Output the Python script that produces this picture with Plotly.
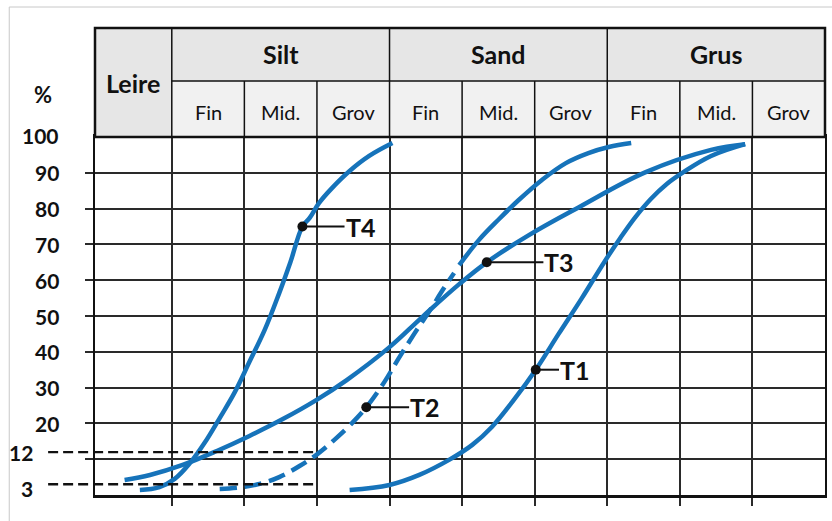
import plotly.graph_objects as go

# ---- grain-size classes (column headers) ----
clay_label = "Leire"
fractions = ["Silt", "Sand", "Grus"]
subclasses = ["Fin", "Mid.", "Grov"]

# ---- percentage axis ----
pct_grid = [10, 20, 30, 40, 50, 60, 70, 80, 90]
pct_labels = [100, 90, 80, 70, 60, 50, 40, 30, 20]
limit_values = [12, 3]

# ---- grading curves: x in class-column units (0 = start of fine silt), y = % passing ----
t1_x = [2.45, 3.0, 3.41, 3.82, 4.14, 4.41, 4.71, 5.015, 5.33, 5.65, 5.96, 6.18, 6.39, 6.60, 6.82, 7.05, 7.43, 7.90]
t1_y = [1.4, 2.8, 5.6, 9.8, 14.0, 19.0, 26.5, 35.0, 45.0, 55.0, 65.1, 71.8, 77.7, 82.7, 86.9, 90.2, 94.7, 98.0]

t2_dash_x = [0.66, 0.93, 1.21, 1.48, 1.76, 2.01, 2.24, 2.47, 2.68, 2.93, 3.13, 3.34, 3.55, 3.75, 3.89]
t2_dash_y = [1.7, 2.1, 3.1, 5.0, 8.1, 11.5, 15.4, 19.8, 24.5, 31.6, 38.3, 45.0, 51.4, 57.8, 62.0]
t2_solid_x = [3.96, 4.23, 4.51, 4.78, 5.10, 5.43, 5.74, 6.02, 6.33]
t2_solid_y = [64.2, 71.2, 77.1, 82.4, 88.0, 92.7, 95.5, 97.2, 98.3]

t3_x = [-0.65, -0.30, 0.15, 0.62, 1.07, 1.53, 1.99, 2.41, 3.0, 3.45, 3.96, 4.34, 4.92, 5.61, 6.53, 7.43, 7.90]
t3_y = [4.2, 5.6, 8.4, 12.3, 16.5, 21.2, 26.5, 32.1, 41.3, 49.7, 58.9, 65.0, 72.6, 80.4, 90.2, 96.4, 98.0]

t4_x = [-0.44, -0.17, 0.04, 0.25, 0.45, 0.66, 0.87, 1.07, 1.28, 1.48, 1.635, 1.80, 1.90, 2.03, 2.21, 2.45, 2.72, 3.04]
t4_y = [1.4, 2.2, 4.5, 8.9, 14.5, 21.5, 28.8, 37.2, 46.1, 56.4, 65.1, 75.0, 77.4, 81.6, 85.8, 90.5, 94.7, 98.3]

# ---- labelled sample points ----
sample_names = ["T1", "T2", "T3", "T4"]
sample_x = [5.015, 2.68, 4.34, 1.80]
sample_y = [35.0, 24.5, 65.0, 75.0]
leader_len = [0.32, 0.59, 0.78, 0.58]

# ---- styling ----
BLUE = "#1673ba"
INK = "#111111"
GRID = "#2a2a2a"
FONT = "Lato"

W, H = 832, 521
ML, MR, MT, MB = 95, 5, 28, 26
PLOT_H = 358          # height of the percentage grid in px
ROW1_H, ROW2_H = 53, 56
X0, X1 = -1.058, 9.0  # column units across the plotting width

area_h = H - MT - MB
area_w = W - ML - MR
y_dom_top = PLOT_H / area_h
row1_bot = 1 - ROW1_H / area_h


def xp(v):
    """column units -> paper x"""
    return (v - X0) / (X1 - X0)


def px_x(p):
    """pixel x -> paper x"""
    return (p - ML) / area_w


def px_y(p):
    """pixel y -> paper y"""
    return 1 - (p - MT) / area_h


fig = go.Figure()

line_style = dict(color=BLUE, width=4.5, shape="spline", smoothing=1.1)
fig.add_trace(go.Scatter(x=t1_x, y=t1_y, mode="lines", line=line_style, hoverinfo="skip"))
fig.add_trace(go.Scatter(x=t2_dash_x, y=t2_dash_y, mode="lines",
                         line=dict(line_style, dash="17px,8px"), hoverinfo="skip"))
fig.add_trace(go.Scatter(x=t2_solid_x, y=t2_solid_y, mode="lines", line=line_style, hoverinfo="skip"))
fig.add_trace(go.Scatter(x=t3_x, y=t3_y, mode="lines", line=line_style, hoverinfo="skip"))
fig.add_trace(go.Scatter(x=t4_x, y=t4_y, mode="lines", line=line_style, hoverinfo="skip"))

annotations = []
for name, sx, sy, ln in zip(sample_names, sample_x, sample_y, leader_len):
    fig.add_trace(go.Scatter(x=[sx, sx + ln], y=[sy, sy], mode="lines",
                             line=dict(color=INK, width=2), hoverinfo="skip"))
    fig.add_trace(go.Scatter(x=[sx], y=[sy], mode="markers",
                             marker=dict(color=INK, size=10), hoverinfo="skip"))
    annotations.append(dict(x=sx + ln, y=sy, xref="x", yref="y", text=f"<b>{name}</b>",
                            showarrow=False, xanchor="left", yanchor="middle", xshift=-1,
                            font=dict(family=FONT, size=25, color=INK)))

shapes = []

# header fills
shapes.append(dict(type="rect", xref="paper", yref="paper", x0=0, x1=xp(0), y0=y_dom_top, y1=1,
                   fillcolor="#e6e6e6", line=dict(width=0), layer="above"))
shapes.append(dict(type="rect", xref="paper", yref="paper", x0=xp(0), x1=1, y0=row1_bot, y1=1,
                   fillcolor="#e6e6e6", line=dict(width=0), layer="above"))
shapes.append(dict(type="rect", xref="paper", yref="paper", x0=xp(0), x1=1, y0=y_dom_top, y1=row1_bot,
                   fillcolor="#f1f1f1", line=dict(width=0), layer="above"))

# header rules
shapes.append(dict(type="line", xref="paper", yref="paper", x0=xp(0), x1=1, y0=row1_bot, y1=row1_bot,
                   line=dict(color=INK, width=1.5), layer="above"))
for k in range(10):
    top = 1 if k % 3 == 0 else row1_bot
    shapes.append(dict(type="line", xref="paper", yref="paper", x0=xp(k), x1=xp(k), y0=y_dom_top, y1=top,
                       line=dict(color=INK, width=1.5), layer="above"))
shapes.append(dict(type="rect", xref="paper", yref="paper", x0=0, x1=1, y0=y_dom_top, y1=1,
                   line=dict(color=INK, width=2.5), layer="above"))

# limit lines at 12 % and 3 %
for v in limit_values:
    shapes.append(dict(type="line", xref="paper", yref="y", x0=px_x(48), x1=xp(2), y0=v, y1=v,
                       line=dict(color=INK, width=2.3, dash="10px,5px"), layer="above"))

# light frame around the figure
shapes.append(dict(type="line", xref="paper", yref="paper", x0=px_x(9), x1=px_x(W + 5),
                   y0=px_y(7), y1=px_y(7), line=dict(color="#c8c8c8", width=1)))
shapes.append(dict(type="line", xref="paper", yref="paper", x0=px_x(9), x1=px_x(9),
                   y0=px_y(7), y1=px_y(H + 5), line=dict(color="#c8c8c8", width=1)))

# header text
head_font_b = dict(family=FONT, size=25, color=INK)
head_font = dict(family=FONT, size=20, color=INK)
annotations.append(dict(x=xp((X0 + 0) / 2), y=(y_dom_top + 1) / 2, xref="paper", yref="paper",
                        xanchor="center", yanchor="middle",
                        text=f"<b>{clay_label}</b>", showarrow=False, font=head_font_b))
for i, name in enumerate(fractions):
    annotations.append(dict(x=xp(3 * i + 1.5), y=(row1_bot + 1) / 2, xref="paper", yref="paper",
                            xanchor="center", yanchor="middle",
                            text=f"<b>{name}</b>", showarrow=False, font=head_font_b))
    for j, sub in enumerate(subclasses):
        annotations.append(dict(x=xp(3 * i + j + 0.5), y=(row1_bot + y_dom_top) / 2, yshift=-3,
                                xanchor="center", yanchor="middle",
                                xref="paper", yref="paper", text=sub, showarrow=False, font=head_font))

# percentage labels
tick_font = dict(family=FONT, size=21, color=INK)
for v in pct_labels:
    annotations.append(dict(x=px_x(61), y=v, xref="paper", yref="y", text=f"<b>{v}</b>",
                            showarrow=False, xanchor="right", yanchor="middle",
                            yshift=2 if v == 100 else 0, font=tick_font))
for v in limit_values:
    annotations.append(dict(x=px_x(35), y=v, xref="paper", yref="y", text=f"<b>{v}</b>",
                            showarrow=False, xanchor="right", yanchor="middle",
                            yshift=-4 if v == 3 else 0, font=tick_font))
annotations.append(dict(x=px_x(43), y=px_y(95), xref="paper", yref="paper", text="<b>%</b>",
                        xanchor="center", yanchor="middle",
                        showarrow=False, font=dict(family=FONT, size=22, color=INK)))

fig.update_layout(
    width=W, height=H, autosize=False,
    margin=dict(l=ML, r=MR, t=MT, b=MB, pad=0),
    paper_bgcolor="white", plot_bgcolor="white",
    showlegend=False,
    shapes=shapes, annotations=annotations,
    xaxis=dict(range=[X0, X1], tickvals=list(range(9)), showticklabels=False,
               showgrid=True, gridcolor=GRID, gridwidth=1.5, zeroline=False,
               ticks="outside", ticklen=8, tickwidth=1.5, tickcolor=GRID,
               showline=True, linecolor=INK, linewidth=3, mirror=True, fixedrange=True),
    yaxis=dict(range=[0, 100], domain=[0, y_dom_top], tickvals=pct_grid, showticklabels=False,
               showgrid=True, gridcolor=GRID, gridwidth=1.5, zeroline=False,
               ticks="outside", ticklen=8, tickwidth=1.5, tickcolor=GRID,
               showline=True, linecolor=INK, linewidth=2, mirror=True, fixedrange=True),
)

fig.write_html("out.html", config={"displayModeBar": False})
